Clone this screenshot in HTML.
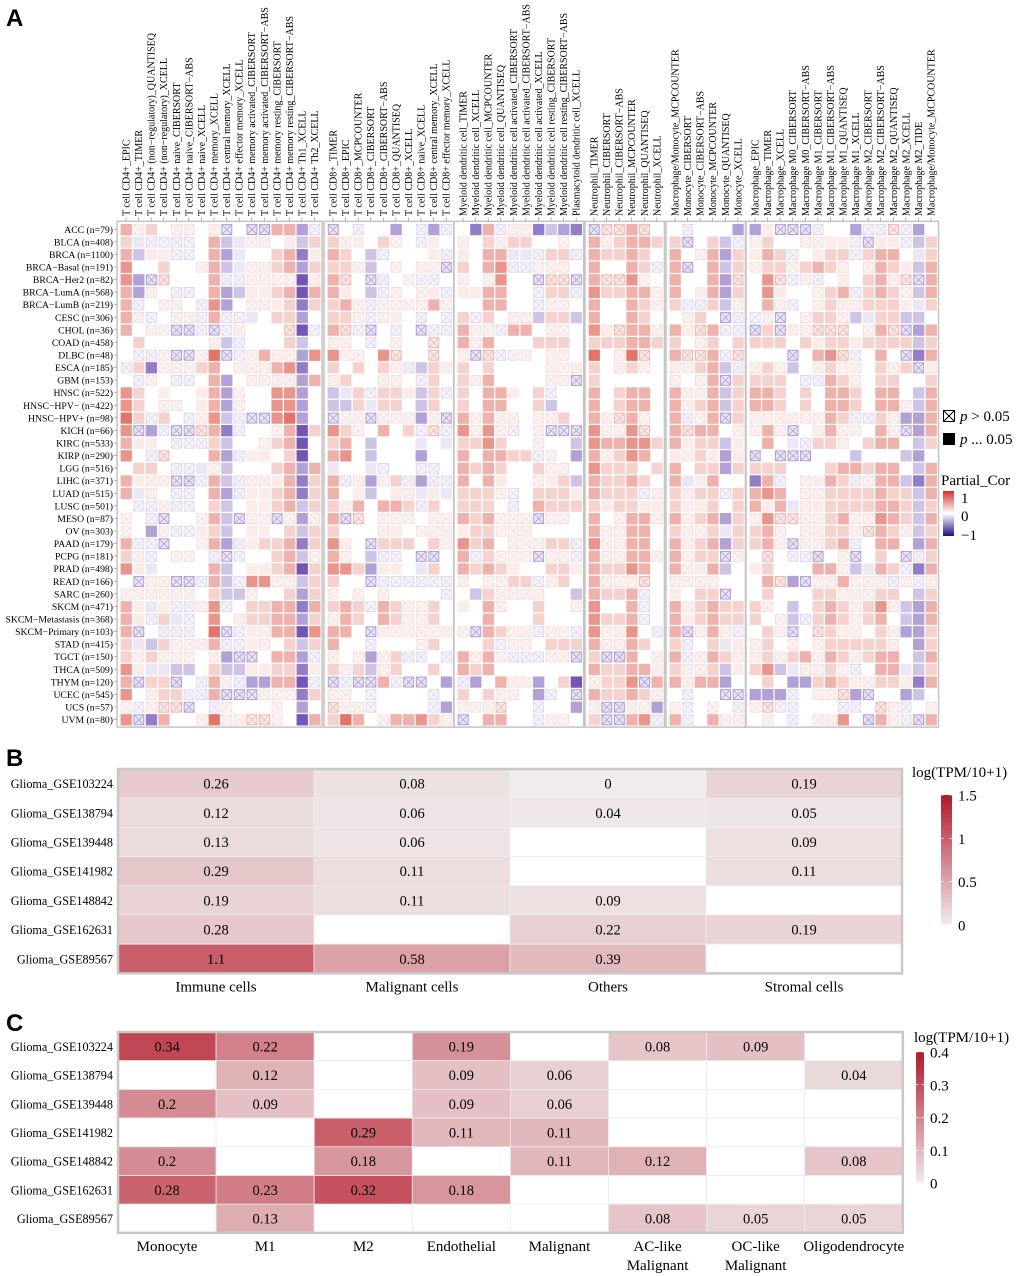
<!DOCTYPE html>
<html><head><meta charset="utf-8">
<style>
html,body{margin:0;padding:0;background:#fff;}
svg{display:block;font-family:"Liberation Serif",serif;}
</style></head>
<body>
<svg id="fig" width="1020" height="1276" viewBox="0 0 1020 1276" xmlns="http://www.w3.org/2000/svg">
<defs>
<linearGradient id="gA" x1="0" y1="0" x2="0" y2="1"><stop offset="0" stop-color="#d6322c"/><stop offset="0.5" stop-color="#ffffff"/><stop offset="1" stop-color="#1e0f8c"/></linearGradient>
<linearGradient id="gB" x1="0" y1="0" x2="0" y2="1"><stop offset="0" stop-color="#b2182b"/><stop offset="1" stop-color="#f0eded"/></linearGradient>
</defs>
<text x="6" y="26" font-family="Liberation Sans,sans-serif" font-weight="bold" font-size="24">A</text>
<text x="6" y="766" font-family="Liberation Sans,sans-serif" font-weight="bold" font-size="24">B</text>
<text x="6" y="1031" font-family="Liberation Sans,sans-serif" font-weight="bold" font-size="24">C</text>
<g id="pA"></g>
<g id="pB"></g>
<g id="pC"></g>
<g>
 <rect x="943.5" y="410.5" width="11" height="11" fill="#fff" stroke="#000"/>
 <path d="M944 411L954 421M954 411L944 421" stroke="#000" stroke-width="1"/>
 <text x="960" y="421" font-size="15"><tspan font-style="italic">p</tspan> &gt; 0.05</text>
 <rect x="943" y="433" width="12" height="12" fill="#000"/>
 <text x="960" y="444" font-size="15"><tspan font-style="italic">p</tspan> ... 0.05</text>
 <text x="941" y="485" font-size="15">Partial_Cor</text>
 <rect x="943" y="491" width="11" height="45" fill="url(#gA)"/>
 <text x="961" y="503" font-size="15">1</text>
 <text x="961" y="521" font-size="15">0</text>
 <text x="961" y="540" font-size="15">−1</text>
</g>
</svg>
<script>
const NS="http://www.w3.org/2000/svg";
// ---------- Panel A data ----------
const rowNamesA=["ACC (n=79)","BLCA (n=408)","BRCA (n=1100)","BRCA−Basal (n=191)","BRCA−Her2 (n=82)","BRCA−LumA (n=568)","BRCA−LumB (n=219)","CESC (n=306)","CHOL (n=36)","COAD (n=458)","DLBC (n=48)","ESCA (n=185)","GBM (n=153)","HNSC (n=522)","HNSC−HPV− (n=422)","HNSC−HPV+ (n=98)","KICH (n=66)","KIRC (n=533)","KIRP (n=290)","LGG (n=516)","LIHC (n=371)","LUAD (n=515)","LUSC (n=501)","MESO (n=87)","OV (n=303)","PAAD (n=179)","PCPG (n=181)","PRAD (n=498)","READ (n=166)","SARC (n=260)","SKCM (n=471)","SKCM−Metastasis (n=368)","SKCM−Primary (n=103)","STAD (n=415)","TGCT (n=150)","THCA (n=509)","THYM (n=120)","UCEC (n=545)","UCS (n=57)","UVM (n=80)"];
const colGroupsA=[
["T cell CD4+_EPIC","T cell CD4+_TIMER","T cell CD4+ (non−regulatory)_QUANTISEQ","T cell CD4+ (non−regulatory)_XCELL","T cell CD4+ naive_CIBERSORT","T cell CD4+ naive_CIBERSORT−ABS","T cell CD4+ naive_XCELL","T cell CD4+ memory_XCELL","T cell CD4+ central memory_XCELL","T cell CD4+ effector memory_XCELL","T cell CD4+ memory activated_CIBERSORT","T cell CD4+ memory activated_CIBERSORT−ABS","T cell CD4+ memory resting_CIBERSORT","T cell CD4+ memory resting_CIBERSORT−ABS","T cell CD4+ Th1_XCELL","T cell CD4+ Th2_XCELL"],
["T cell CD8+_TIMER","T cell CD8+_EPIC","T cell CD8+_MCPCOUNTER","T cell CD8+_CIBERSORT","T cell CD8+_CIBERSORT−ABS","T cell CD8+_QUANTISEQ","T cell CD8+_XCELL","T cell CD8+ naive_XCELL","T cell CD8+ central memory_XCELL","T cell CD8+ effector memory_XCELL"],
["Myeloid dendritic cell_TIMER","Myeloid dendritic cell_XCELL","Myeloid dendritic cell_MCPCOUNTER","Myeloid dendritic cell_QUANTISEQ","Myeloid dendritic cell activated_CIBERSORT","Myeloid dendritic cell activated_CIBERSORT−ABS","Myeloid dendritic cell activated_XCELL","Myeloid dendritic cell resting_CIBERSORT","Myeloid dendritic cell resting_CIBERSORT−ABS","Plasmacytoid dendritic cell_XCELL"],
["Neutrophil_TIMER","Neutrophil_CIBERSORT","Neutrophil_CIBERSORT−ABS","Neutrophil_MCPCOUNTER","Neutrophil_QUANTISEQ","Neutrophil_XCELL"],
["Macrophage/Monocyte_MCPCOUNTER","Monocyte_CIBERSORT","Monocyte_CIBERSORT−ABS","Monocyte_MCPCOUNTER","Monocyte_QUANTISEQ","Monocyte_XCELL"],
["Macrophage_EPIC","Macrophage_TIMER","Macrophage_XCELL","Macrophage M0_CIBERSORT","Macrophage M0_CIBERSORT−ABS","Macrophage M1_CIBERSORT","Macrophage M1_CIBERSORT−ABS","Macrophage M1_QUANTISEQ","Macrophage M1_XCELL","Macrophage M2_CIBERSORT","Macrophage M2_CIBERSORT−ABS","Macrophage M2_QUANTISEQ","Macrophage M2_XCELL","Macrophage M2_TIDE","Macrophage/Monocyte_MCPCOUNTER"]];
// codes: 0..5 positive strength, a..e negative strength; x/X/y/Y = non-significant (crossed) weak pos/neg
const levelCodes={"0":0,"1":0.1,"2":0.22,"3":0.38,"4":0.52,"5":0.68,"a":-0.1,"b":-0.25,"c":-0.4,"d":-0.55,"e":-0.72,"x":0.07,"X":0.16,"y":-0.07,"Y":-0.18};
const corRowsA=[
"3x20xx0xY0YY33cy|Y0y00c0ycy|0d3yxxdbcd|YXX3X0|0y000c|cxYYYy00cyyXyc0",
"2ayyyy03baxx01b2|2x102x0y10|x02x2200x0|3x2332|2Y02by|x200xx11yY11yb2",
"3b11yy03ca0023d1|320by0001y|1033aay22y|322320|30x3c2|132y0122y2330a2",
"400200x3baxx23c2|22xb0x0xxY|2034yyxxx0|30032y|3Y03b2|x22x232x0x321b3",
"4cYX0003yyxxxxex|3X0Yy0xyy0|x0x400YXXY|3XX4x0|3003cX|04Xyxy0x023xXY3",
"3cx0yy03cb1123e3|310byx0x1y|113300y22y|42233x|3013c2|04100x23y232xb3",
"3y0xx0y4c0xx12d2|23xyxxxx3x|003300yxx0|30032x|2yy2bx|03xy0x2xx2221a2",
"3xy0xxy3yya022c0|22xyx10y0y|2y20xxb22b|300320|0x20Yy|yxY0x22xba22bb0",
"30xxYYyYyx000Xey|3XyY0y0Yyy|3xxy330xx0|4xX33x|3xX3yy|Y2YxxXXX0x3XYc3",
"0200000xby0002b0|xx0y0x00X0|3x30002220|222332|20x202|2220212212222b2",
"0yyxYYx5Yyx3xxc4|4xx04X00X0|xYXyxx0xx0|50x5X0|3XX3yX|000Y034Xy030Yd3",
"y2dxxx230xxx34d0|20202xyb2x|2020000xxx|20x2x0|xx23by|x2xb0x2xx02x2Yx",
"0yx0yy03c0xxxxc3|x200xx0y20|2x30000xxY|200000|x0x3Y2|2220yy32x022002",
"42010013cx0044c0|ba2y221b2y|2033102y00|302330|3x13b2|3320203320330b3",
"420xx013cx0044c0|bb2a220b20|2033002b00|302330|3x23b2|332020332033xb3",
"52y20yx4byYY45c0|YxxYxxxcxY|3x3xx0xx20|3xX3x0|3yx3Y2|xxxxxx32yy2xcc3",
"4YcyYYX3dy00x3e2|42x0302yXy|4x4xy0xYYY|4xx4X0|3X330x|x3xY0x3xx03xYc3",
"3110yyy2b00x23e0|230b000a0a|224200x00b|433442|3122b1|030ay22x02330b2",
"40yX0003cy1102e0|340b000c00|303322yx0c|3x2430|1x21c1|Y0YYY000b000bc0",
"0220yyaxb00023c3|a00ay00yy0|3232002xx0|422202|3022c2|2220002332330b3",
"31xxYYy3byxx13d2|3yxcx2ycyy|303100x12b|322320|3a1300|d3y0x132yx33bd3",
"3ax0yy03cy1123d2|301b01xa1a|222xy02221|3222yx|2x22y2|3430xx2222322b3",
"0yyxyy02b01123b2|2130332y20|2220y03222|212211|2x1202|313ax12222332b2",
"x0yY00x3bYxxYxcx|3YX0xxx0xx|323xxxYxx0|30x33x|3x23c2|x4XXxx23xx432b3",
"x0cxyy12b01102b2|2000x10xxx|122xxx0000|3xx330|2xx2a2|23x0xx22xX32xb2",
"3yyY00x3cy1223d2|4x0Y22202x|4230xxx22y|4xx330|3x23c2|23xYxx23y0330c3",
"2xy0xx0yYy0023bx|3x0byy0YY0|3y2xxxYxxy|3xx33x|3x22Yx|0X0yyY0xY020Yy2",
"41a00003b01123e2|442c110a20|3232100221|322430|3x13b0|1200033xba32yd3",
"0YxxYYy3by44xxb2|200Yyyyyyy|x0xx22yx20|3xxxX0|xxxx00|03XcYxx3xxxyxyx",
"xxxxxx02bbx002c2|x0x0x0000y|0b2xxxx00b|3223y0|1022Y0|0200022xxx220b2",
"31a1yyx4y02233d3|232y32xx20|103x00200x|4003y0|3x2322|2x0b0232x24xbc3",
"31y2ay040x2233c2|x32032xx20|0030002000|4223y0|312322|20xby232x230bc3",
"3Y0yyy05Yy1x33e4|330Yxxxxxx|xY32xxyxxy|4xx40y|3Yx3xy|02xY0X2xx02xcc2",
"2ab2xxx3yy1x02b2|300y000x20|002yxx0222|3xx320|2y02a1|x20x0x22222x0c2",
"2x2xxx0xcYY033cy|x0xcx2yy0y|3x3xyyyxxY|2YY30x|3yx32x|x2x23x32x2330b3",
"41aabb02bb1122d1|2x2bx20020|3230000000|322331|2xx2b1|24baxx2xy033ab2",
"3Y22Y0y3xycc33ey|YyYY3yYY0c|yc03xxc02e|x224Y3|3x33c0|020cc232xx22xd3",
"40x22yy3YYYxxxd2|xx0y0000y0|202xx0cy0Y|32232x|0y00YY|cccy0xxXcY00cb0",
"xyxXXY0yx000x0c0|Xxxy0000yc|xxxX00y00c|xYYxxc|xy0x0y|xXyy000yy0Xxy0x",
"4Yd300x5xxXXx0e3|2530x3342x|Y03300yxx0|2YY34y|3y03xx|0x0y0xx40Y3xyY3"];

// ---------- Panel B data ----------
const datasets=["Glioma_GSE103224","Glioma_GSE138794","Glioma_GSE139448","Glioma_GSE141982","Glioma_GSE148842","Glioma_GSE162631","Glioma_GSE89567"];
const catsB=["Immune cells","Malignant cells","Others","Stromal cells"];
const immuneB=[0.26,0.12,0.13,0.29,0.19,0.28,1.1];
const malignantB=[0.08,0.06,0.06,0.11,0.11,null,0.58];
const othersB=[0,0.04,null,null,0.09,0.22,0.39];
const stromalB=[0.19,0.05,0.09,0.11,null,0.19,null];
const ticksB=[0,0.5,1,1.5];
// ---------- Panel C data ----------
const catsC=["Monocyte","M1","M2","Endothelial","Malignant","AC-like|Malignant","OC-like|Malignant","Oligodendrocyte"];
const monocyteC=[0.34,null,0.2,null,0.2,0.28,null];
const m1C=[0.22,0.12,0.09,null,null,0.23,0.13];
const m2C=[null,null,null,0.29,0.18,0.32,null];
const endothelialC=[0.19,0.09,0.09,0.11,null,0.18,null];
const malignantC=[null,0.06,0.06,0.11,0.11,null,null];
const acLikeC=[0.08,null,null,null,0.12,null,0.08];
const ocLikeC=[0.09,null,null,null,null,null,0.05];
const oligoC=[null,0.04,null,null,0.08,null,0.05];
const ticksC=[0,0.1,0.2,0.3,0.4];

function mk(tag,attrs,parent,text){const e=document.createElementNS(NS,tag);for(const k in attrs)e.setAttribute(k,attrs[k]);if(text!==undefined)e.textContent=text;parent.appendChild(e);return e;}
function mix(c1,c2,t){t=Math.max(0,Math.min(1,t));return "rgb("+c1.map((v,i)=>Math.round(v+(c2[i]-v)*t)).join(",")+")";}

// ---------- Panel A render ----------
(function(){
const g=document.getElementById("pA");
const pitch=12.57, top=223.3;
const gStarts=[120,327,457,588,669,749];
const yA=i=>top+i*pitch;
const red=[216,60,45], blue=[70,30,160], wh=[255,255,255];
const colorA=v=>v>=0?mix(wh,red,v*1.05):mix(wh,blue,-v*1.05);
colGroupsA.forEach((cols,gi)=>{
  const x0=gStarts[gi]-3, w=cols.length*pitch+4;
  const fr=mk("rect",{x:x0,y:top-2,width:w,height:40*pitch+3,fill:"none",stroke:"#c4c4c4","stroke-width":1.5},g);
  
  
  cols.forEach((lab,j)=>{
    const cx=gStarts[gi]+j*pitch+6;
    mk("line",{x1:cx,x2:cx,y1:top-6,y2:top-2,stroke:"#888","stroke-width":0.6},g);
    const t=mk("text",{x:0,y:0,"font-size":10,transform:"translate("+(cx+3.5)+",216) rotate(-90)"},g,lab);
    
    
  });
});
rowNamesA.forEach((nm,i)=>{
  const t=mk("text",{x:113,y:yA(i)+9.5,"font-size":9.7,"text-anchor":"end"},g,nm);
  
  
  mk("line",{x1:114,x2:117,y1:yA(i)+6,y2:yA(i)+6,stroke:"#888","stroke-width":0.6},g);
  const parts=corRowsA[i].split("|");
  colGroupsA.forEach((cols,gi)=>{
    const s=(parts[gi]||"");
    for(let j=0;j<cols.length;j++){
      const ch=s[j]||"0";
      const v=levelCodes[ch]!==undefined?levelCodes[ch]:0;
      const ns="xXyY".indexOf(ch)>=0;
      const x=gStarts[gi]+j*pitch+0.6, y=yA(i)+0.6, w=11.3;
      if(ns){
        const fill=colorA(v*0.6), st=colorA(v*2.3);
        const r=mk("rect",{x:x+0.7,y:y+0.7,width:w-1.4,height:w-1.4,fill:fill,stroke:st,"stroke-width":1},g);
        
        
        mk("path",{d:"M"+(x+1)+" "+(y+1)+"L"+(x+w-1)+" "+(y+w-1)+"M"+(x+w-1)+" "+(y+1)+"L"+(x+1)+" "+(y+w-1),stroke:st,"stroke-width":0.8,fill:"none"},g);
      } else if(v!==0){
        const r=mk("rect",{x:x,y:y,width:w,height:w,fill:colorA(v)},g);
        
        
      }
    }
  });
});
})();

// ---------- generic heatmap for B and C ----------
function heat(gid,cols,series,x0,y0,cw,ch,vmax,fs,legend){
  const g=document.getElementById(gid);
  const lo=[240,236,236], hi=[182,32,48];
  datasets.forEach((d,i)=>{
    const t=mk("text",{x:113,y:y0+i*ch+ch/2+4.5,"font-size":12.2,"text-anchor":"end"},g,d);
    
    
  });
  series.forEach((arr,j)=>{
    arr.forEach((v,i)=>{
      const x=x0+j*cw, y=y0+i*ch;
      if(v===null){mk("rect",{x:x,y:y,width:cw,height:ch,fill:"#fff",stroke:"#ececec","stroke-width":0.8},g);return;}
      const r=mk("rect",{x:x,y:y,width:cw,height:ch,fill:mix(lo,hi,v/vmax*0.95),stroke:"#ececec","stroke-width":0.8},g);
      
      
      const t=mk("text",{x:x+cw/2,y:y+ch/2+5,"font-size":fs,"text-anchor":"middle"},g,String(v));
      
      
    });
  });
  const fr=mk("rect",{x:x0,y:y0,width:cw*cols.length,height:ch*datasets.length,fill:"none",stroke:"#c8c8c8","stroke-width":2.5},g);
  
  
  cols.forEach((c,j)=>{
    const ls=c.split("|");
    ls.forEach((l,k)=>{
      const t=mk("text",{x:x0+j*cw+cw/2,y:y0+ch*datasets.length+18+k*19,"font-size":15,"text-anchor":"middle"},g,l);
      
      
    });
  });
  const L=legend;
  const tt=mk("text",{x:L.tx,y:L.ty,"font-size":15},g,"log(TPM/10+1)");
  
  
  const bar=mk("rect",{x:L.bx,y:L.by0,width:L.bw,height:L.by1-L.by0,fill:"url(#gB)"},g);
  
  
  L.ticks.forEach(tv=>{
    const yy=L.by1-(tv/vmax)*(L.by1-L.by0);
    mk("line",{x1:L.bx,x2:L.bx+2.5,y1:yy,y2:yy,stroke:"#fff","stroke-width":0.8},g);
    mk("line",{x1:L.bx+L.bw-2.5,x2:L.bx+L.bw,y1:yy,y2:yy,stroke:"#fff","stroke-width":0.8},g);
    const t=mk("text",{x:L.bx+L.bw+6,y:yy+5.5,"font-size":15},g,String(tv));
    
    
  });
}
heat("pB",catsB,[immuneB,malignantB,othersB,stromalB],118,769,196,29.2,1.5,14.5,
 {tx:912,ty:777,bx:941,bw:11,by0:795,by1:925,ticks:ticksB});
heat("pC",catsC,[monocyteC,m1C,m2C,endothelialC,malignantC,acLikeC,ocLikeC,oligoC],118,1032,98.1,28.7,0.4,14.5,
 {tx:914,ty:1042,bx:916,bw:8,by0:1052,by1:1183,ticks:ticksC});
</script>
</body></html>
